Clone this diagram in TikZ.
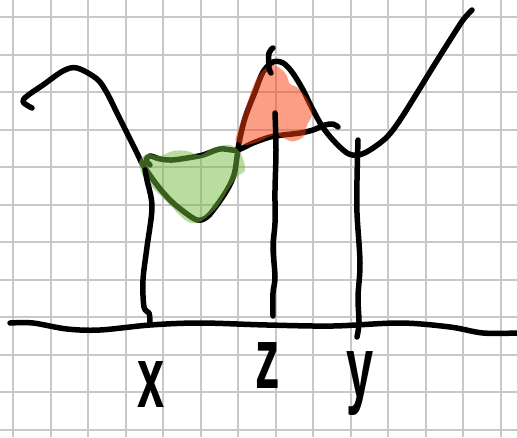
\documentclass[tikz,border=0pt]{standalone}
\usepackage{fontspec}
\setmainfont{Liberation Sans}
\definecolor{gridgray}{RGB}{200,200,200}
\definecolor{hlgreen}{RGB}{116,188,64}
\definecolor{hlred}{RGB}{250,62,12}
\begin{document}
\begin{tikzpicture}[x=1pt,y=-1pt,
  ink/.style={line width=5.5pt,line cap=round,line join=round,black},
  gridline/.style={line width=1.8pt,gridgray},
  greenhl/.style={fill=hlgreen,fill opacity=0.5},
  redhl/.style={fill=hlred,fill opacity=0.5},
  lbl/.style={font=\fontsize{87}{87}\selectfont\bfseries,xscale=0.56,inner sep=0pt,anchor=base}]
\useasboundingbox (0,0) rectangle (517,437);
\fill[white] (0,0) rectangle (517,437);
% grid
\foreach \i in {0,...,13} \draw[gridline] ({13.3+37.5*\i},0) -- ({13.3+37.5*\i},437);
\foreach \j in {0,...,11} \draw[gridline] (0,{17.3+37.5*\j}) -- (517,{17.3+37.5*\j});
% main curve
\draw[ink] plot[smooth,tension=0.55] coordinates {(32,108) (23,102) (27,96) (43,85) (63,71) (77,68) (97,79) (107,93) (117,113) (127,133) (137,153) (143,165) (157,185) (170,200) (183,211) (197,220) (207,217) (217,205) (227,190) (234,175) (237,157) (239,143) (245,118) (255,92) (263,72) (273,62) (283,63) (292,72) (302,88) (312,108) (322,126) (333,140) (347,153) (358,155) (370,150) (387,137) (400,120) (417,93) (433,67) (450,40) (463,20) (472,10)};
% chord
\draw[ink] plot[smooth,tension=0.55] coordinates {(150,165) (146,160) (150,156) (160,159) (172,160) (187,158) (203,155) (220,149) (237,150) (253,143) (270,137) (283,135) (300,133) (313,130) (325,125) (333,124) (338,127)};
% axis
\draw[ink] plot[smooth,tension=0.55] coordinates {(10,323) (33,323) (67,329) (100,330) (150,325) (200,323) (267,325) (333,326) (400,323) (450,327) (483,333) (517,333)};
% highlights
\fill[greenhl] plot[smooth cycle,tension=0.6] coordinates {(139,163) (147,154) (160,156) (173,151) (187,151) (200,155) (213,148) (230,145) (241,154) (245,170) (238,176) (228,190) (218,206) (208,216) (197,223) (185,220) (168,203) (155,190) (145,180)};
\fill[redhl] plot[smooth cycle,tension=0.6] coordinates {(236,137) (245,110) (257,78) (272,65) (285,73) (290,84) (298,88) (309,102) (312,115) (307,125) (305,135) (298,140) (290,141) (275,135) (258,142) (245,145) (237,141)};
% verticals
\draw[ink] plot[smooth,tension=0.55] coordinates {(145,170) (147,180) (152,207) (147,247) (143,280) (144,307) (149,313) (150,322)};
\draw[ink] plot[smooth,tension=0.55] coordinates {(275,113) (276,150) (275,190) (275,223) (273,247) (275,277) (273,293) (273,316)};
\draw[ink] plot[smooth,tension=0.55] coordinates {(358,140) (357,180) (357,213) (360,263) (358,297) (359,323) (357,337)};
\draw[ink] plot[smooth,tension=0.55] coordinates {(273,48) (269,53) (269,68) (271,73)};
% labels
\node[lbl] (lx) at (151,407) {x};
\node[lbl] (lz) at (268,388) {z};
\node[lbl] (ly) at (360,397) {y};
\end{tikzpicture}
\end{document}
